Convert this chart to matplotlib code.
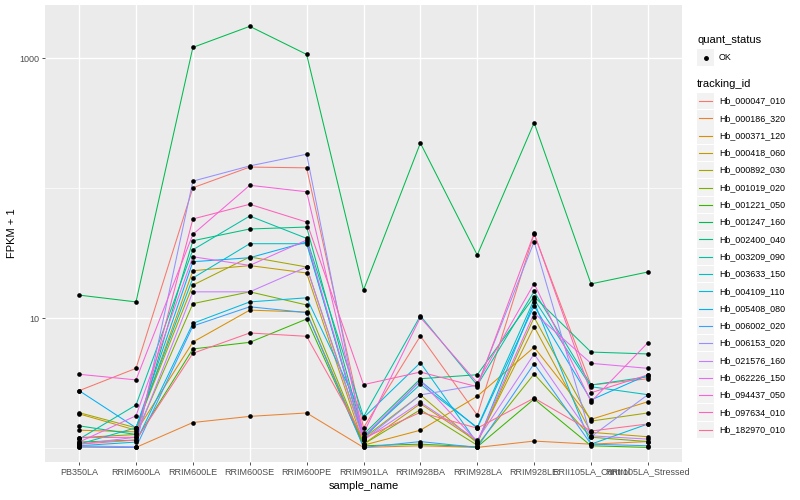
import matplotlib
matplotlib.use("Agg")
import matplotlib.pyplot as plt
from matplotlib.lines import Line2D
from matplotlib.patches import Rectangle
from matplotlib.ticker import NullFormatter

plt.rcParams["font.family"] = ["Liberation Sans", "DejaVu Sans"]

samples = ["PB350LA", "RRIM600LA", "RRIM600LE", "RRIM600SE", "RRIM600PE",
           "RRIM901LA", "RRIM928BA", "RRIM928LA", "RRIM928LE",
           "RRII105LA_Control", "RRII105LA_Stressed"]

tracking_ids = ["Hb_000047_010", "Hb_000186_320", "Hb_000371_120", "Hb_000418_060",
                "Hb_000892_030", "Hb_001019_020", "Hb_001221_050", "Hb_001247_160",
                "Hb_002400_040", "Hb_003209_090", "Hb_003633_150", "Hb_004109_110",
                "Hb_005408_080", "Hb_006002_020", "Hb_006153_020", "Hb_021576_160",
                "Hb_062226_150", "Hb_094437_050", "Hb_097634_010", "Hb_182970_010"]

# FPKM + 1 per sample
hb_000047_010 = [2.76, 4.10, 100.5, 145, 143, 1.43, 7.27, 1.79, 44.3, 3.05, 3.41]
hb_000186_320 = [1.02, 1.01, 1.57, 1.75, 1.86, 1.01, 1.04, 1.01, 1.13, 1.07, 1.12]
hb_000371_120 = [1.37, 1.33, 6.53, 11.5, 11.1, 1.05, 1.37, 2.50, 5.96, 1.66, 2.27]
hb_000418_060 = [1.83, 1.37, 23.1, 25.3, 22.2, 1.07, 2.19, 1.12, 8.57, 1.32, 1.22]
hb_000892_030 = [1.87, 1.43, 17.9, 29.5, 24.7, 1.19, 2.56, 1.09, 10.1, 1.61, 1.86]
hb_001019_020 = [1.20, 1.27, 12.9, 15.9, 12.6, 1.07, 1.97, 1.05, 3.71, 1.21, 1.12]
hb_001221_050 = [1.11, 1.15, 5.78, 6.50, 9.82, 1.04, 1.07, 1.02, 2.38, 1.04, 1.01]
hb_001247_160 = [15.0, 13.3, 1208, 1754, 1067, 16.4, 222, 30.5, 318, 18.3, 22.6]
hb_002400_040 = [1.48, 1.27, 39.3, 48.4, 50.1, 1.27, 3.41, 3.66, 14.6, 5.47, 5.29]
hb_003209_090 = [1.17, 2.14, 33.5, 60.9, 41.0, 1.74, 10.4, 3.04, 16.0, 3.05, 3.53]
hb_003633_150 = [1.07, 1.43, 20.3, 37.3, 37.3, 1.22, 3.09, 1.44, 13.9, 2.96, 2.57]
hb_004109_110 = [1.04, 1.11, 9.10, 13.3, 14.3, 1.71, 4.53, 1.09, 13.3, 1.07, 1.53]
hb_005408_080 = [2.76, 1.43, 27.1, 29.1, 38.4, 1.19, 3.29, 1.42, 12.4, 2.34, 3.65]
hb_006002_020 = [1.02, 1.01, 8.68, 12.2, 11.0, 1.01, 1.12, 1.01, 4.45, 1.07, 1.04]
hb_006153_020 = [1.04, 1.02, 113, 148, 182, 1.15, 2.56, 3.04, 38.6, 1.22, 2.57]
hb_021576_160 = [1.07, 1.21, 15.9, 15.9, 24.7, 1.15, 2.25, 1.15, 5.29, 1.24, 1.17]
hb_062226_150 = [1.11, 1.77, 29.6, 25.4, 39.8, 1.22, 3.29, 1.12, 10.9, 4.48, 4.10]
hb_094437_050 = [3.69, 3.34, 44.0, 105, 93.6, 1.30, 10.1, 3.18, 18.4, 2.27, 6.46]
hb_097634_010 = [1.20, 1.21, 57.8, 75.0, 54.7, 3.07, 3.84, 2.96, 44.8, 2.66, 3.65]
hb_182970_010 = [1.07, 1.15, 5.35, 7.67, 7.23, 1.19, 1.88, 1.42, 2.42, 1.35, 1.53]

series = [hb_000047_010, hb_000186_320, hb_000371_120, hb_000418_060, hb_000892_030,
          hb_001019_020, hb_001221_050, hb_001247_160, hb_002400_040, hb_003209_090,
          hb_003633_150, hb_004109_110, hb_005408_080, hb_006002_020, hb_006153_020,
          hb_021576_160, hb_062226_150, hb_094437_050, hb_097634_010, hb_182970_010]

# ggplot hue palette for 20 groups
colors = ["#F8766D", "#EA8331", "#D89000", "#C09B00", "#A3A500", "#7CAE00", "#39B600",
          "#00BB4E", "#00BF7D", "#00C1A3", "#00BFC4", "#00BAE0", "#00B0F6", "#35A2FF",
          "#9590FF", "#C77CFF", "#E76BF3", "#FA62DB", "#FF62BC", "#FF6C91"]

W, H = 800, 500


def fx(px):
    return px / W


def fy(py):
    return 1 - py / H


fig = plt.figure(figsize=(8, 5), dpi=100)
ax = fig.add_axes([fx(45), fy(462), fx(682) - fx(45), fy(5) - fy(462)])
ax.set_facecolor("#EBEBEB")

xs = list(range(len(samples)))
for vals, col in zip(series, colors):
    ax.plot(xs, vals, color=col, lw=0.75, zorder=2)
for vals in series:
    ax.scatter(xs, vals, s=11, color="black", linewidths=0, zorder=3)

ax.set_yscale("log")
ax.set_ylim(0.78, 2560)
ax.set_xlim(-0.6, len(samples) - 0.4)
ax.set_yticks([10, 1000])
ax.set_yticklabels(["10", "1000"])
ax.set_yticks([1, 100], minor=True)
ax.yaxis.set_minor_formatter(NullFormatter())
ax.set_xticks(xs)
ax.set_xticklabels(samples)
ax.grid(which="major", color="white", lw=1.0)
ax.grid(which="minor", axis="y", color="white", lw=0.5)
ax.set_axisbelow(True)
for s in ax.spines.values():
    s.set_visible(False)
ax.tick_params(which="major", length=2, width=0.6, color="#333333",
               labelcolor="#4D4D4D", labelsize=6.5, pad=2)
ax.tick_params(which="minor", length=0)
ax.set_xlabel("sample_name", fontsize=8, labelpad=3)
ax.set_ylabel("FPKM + 1", fontsize=8, labelpad=2)

# legend drawn by hand, ggplot style
key_bg = "#F2F2F2"
fig.text(fx(697), fy(40), "quant_status", fontsize=8, va="center", ha="left")
fig.add_artist(Rectangle((fx(697), fy(66)), fx(17), fy(49) - fy(66),
                         transform=fig.transFigure, facecolor=key_bg, edgecolor="none"))
fig.add_artist(Line2D([fx(705.5)], [fy(57.5)], marker="o", ms=2.5, color="black",
                      transform=fig.transFigure))
fig.text(fx(719), fy(57.5), "OK", fontsize=6.4, va="center", ha="left")

fig.text(fx(697), fy(84), "tracking_id", fontsize=8, va="center", ha="left")
for i, (name, col) in enumerate(zip(tracking_ids, colors)):
    cy = 101 + 17.3 * i
    fig.add_artist(Rectangle((fx(697), fy(cy + 8.2)), fx(17), fy(cy - 8.2) - fy(cy + 8.2),
                             transform=fig.transFigure, facecolor=key_bg, edgecolor="none"))
    fig.add_artist(Line2D([fx(699), fx(712)], [fy(cy), fy(cy)], color=col, lw=0.8,
                          transform=fig.transFigure))
    fig.text(fx(719), fy(cy), name, fontsize=6.4, va="center", ha="left")

fig.savefig("out.png", dpi=100)
